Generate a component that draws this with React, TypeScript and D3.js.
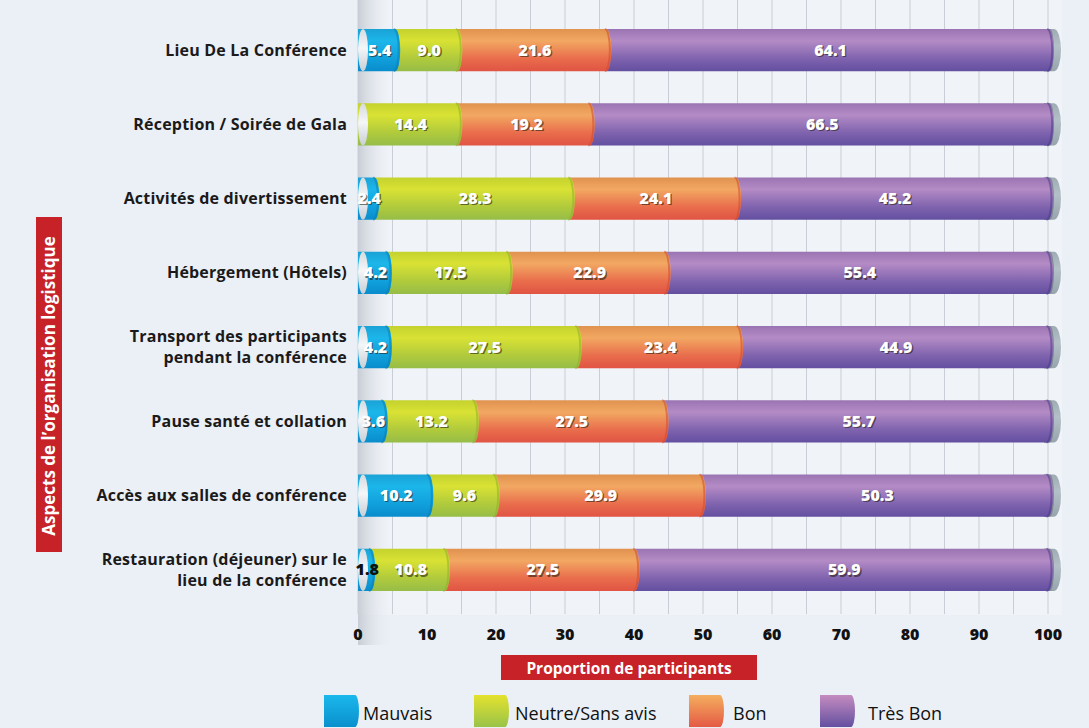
import React from "react";
import * as d3 from "d3";

const categories = [
  "Lieu De La Conférence",
  "Réception / Soirée de Gala",
  "Activités de divertissement",
  "Hébergement (Hôtels)",
  "Transport des participants\npendant la conférence",
  "Pause santé et collation",
  "Accès aux salles de conférence",
  "Restauration (déjeuner) sur le\nlieu de la conférence",
];

const seriesNames = ["Mauvais", "Neutre/Sans avis", "Bon", "Très Bon"];
const mauvais = [5.4, 0, 2.4, 4.2, 4.2, 3.6, 10.2, 1.8];
const neutre = [9.0, 14.4, 28.3, 17.5, 27.5, 13.2, 9.6, 10.8];
const bon = [21.6, 19.2, 24.1, 22.9, 23.4, 27.5, 29.9, 27.5];
const tresBon = [64.1, 66.5, 45.2, 55.4, 44.9, 55.7, 50.3, 59.9];
const xTicks = [0, 10, 20, 30, 40, 50, 60, 70, 80, 90, 100];

const W = 1089;
const H = 728;

// cylinder shading per series (top -> bottom)
const barStops = [
  ["#1aa2d6", "#1cb6ea", "#10a0dc", "#0a8ccc"],
  ["#c4d22e", "#d9e234", "#b0ca3c", "#96bd48"],
  ["#e0924f", "#f2a862", "#e96d4c", "#e05443"],
  ["#9a74b2", "#b48bc5", "#7f63ae", "#634fa0"],
];
const capColor = ["#0b7fb8", "#8fae2a", "#cf4a2e", "#4f3b8c"];
const legendStops = [
  ["#1ab8ec", "#0a90cd"],
  ["#e4e22e", "#99c349"],
  ["#f4ae5e", "#e45a45"],
  ["#c48cc0", "#6450a0"],
];

const font = "'Open Sans', 'DejaVu Sans', sans-serif";

export default function App() {
  const rows = categories.map((c, i) => ({
    cat: c,
    m: mauvais[i],
    n: neutre[i],
    b: bon[i],
    t: tresBon[i],
  }));
  const keys = ["m", "n", "b", "t"];
  const stacked = d3.stack<any>().keys(keys)(rows);

  const x = d3.scaleLinear().domain([0, 100]).range([358, 1048]);
  const y = d3
    .scaleBand<string>()
    .domain(categories)
    .range([-3, 623])
    .paddingInner(0.43)
    .paddingOuter(0.43);
  const bh = y.bandwidth();
  const rx = 5;

  const segPath = (x0: number, x1: number, top: number) =>
    `M${x0},${top}H${x1}A${rx},${bh / 2} 0 0 1 ${x1},${top + bh}H${x0}Z`;

  const gridVals = d3.range(0, 101, 5);

  return (
    <svg
      width={W}
      height={H}
      style={{ position: "absolute", left: 0, top: 0, display: "block" }}
    >
      <defs>
        {barStops.map((s, i) => (
          <linearGradient key={i} id={`bar${i}`} x1="0" y1="0" x2="0" y2="1">
            <stop offset="0%" stopColor={s[0]} />
            <stop offset="28%" stopColor={s[1]} />
            <stop offset="70%" stopColor={s[2]} />
            <stop offset="100%" stopColor={s[3]} />
          </linearGradient>
        ))}
        {legendStops.map((s, i) => (
          <linearGradient key={i} id={`leg${i}`} x1="0" y1="0" x2="0" y2="1">
            <stop offset="0%" stopColor={s[0]} />
            <stop offset="100%" stopColor={s[1]} />
          </linearGradient>
        ))}
        <linearGradient id="wall" x1="0" y1="0" x2="1" y2="0">
          <stop offset="0%" stopColor="#c6ccd4" stopOpacity={0.95} />
          <stop offset="100%" stopColor="#eef1f6" stopOpacity={0} />
        </linearGradient>
        <linearGradient id="capL" x1="0" y1="0" x2="0" y2="1">
          <stop offset="0%" stopColor="#d6dbe0" />
          <stop offset="45%" stopColor="#f4f6f8" />
          <stop offset="100%" stopColor="#c9cfd5" />
        </linearGradient>
        <linearGradient id="capR" x1="0" y1="0" x2="0" y2="1">
          <stop offset="0%" stopColor="#9eabb4" />
          <stop offset="40%" stopColor="#b4c0c7" />
          <stop offset="100%" stopColor="#97a4ad" />
        </linearGradient>
      </defs>

      <rect width={W} height={H} fill="#ebeff6" />
      <rect x={x(0)} y={0} width={x(100) - x(0) + 14} height={615} fill="#f0f3f8" />
      <rect x={x(0)} y={0} width={36} height={645} fill="url(#wall)" />

      {gridVals.map((v) => (
        <line
          key={v}
          x1={x(v)}
          x2={x(v)}
          y1={0}
          y2={614}
          stroke="#c9ced6"
          strokeWidth={1}
        />
      ))}

      {/* bars */}
      {rows.map((r, i) => {
        const top = y(r.cat)!;
        return (
          <g key={r.cat}>
            {/* right grey end cap */}
            <path
              d={`M${x(100) - 4},${top}H${x(100) + 6}A7,${bh / 2} 0 0 1 ${x(100) + 6},${top + bh}H${x(100) - 4}Z`}
              fill="url(#capR)"
            />
            <path
              d={`M${x(100) - 4},${top}H${x(100) + 2}A4,${bh / 2} 0 0 1 ${x(100) + 2},${top + bh}H${x(100) - 4}Z`}
              fill="#7d8a94"
            />
            {[3, 2, 1, 0].map((k) => {
              const d = stacked[k][i];
              if (d[1] - d[0] <= 0) return null;
              return (
                <g key={k}>
                  <path d={segPath(x(d[0]), x(d[1]), top)} fill={`url(#bar${k})`} />
                  <path
                    d={`M${x(d[1]) - 1.5},${top}A${rx},${bh / 2} 0 0 1 ${x(d[1]) - 1.5},${top + bh}`}
                    fill="none"
                    stroke={capColor[k]}
                    strokeOpacity={0.55}
                    strokeWidth={2}
                  />
                </g>
              );
            })}
            <ellipse
              cx={x(0) + 5}
              cy={top + bh / 2}
              rx={rx}
              ry={bh / 2}
              fill="url(#capL)"
            />
          </g>
        );
      })}

      {/* value labels */}
      {rows.map((r, i) => {
        const cy = y(r.cat)! + bh / 2;
        return keys.map((key, k) => {
          const d = stacked[k][i];
          const v = d[1] - d[0];
          if (v <= 0) return null;
          const cx = x((d[0] + d[1]) / 2) + 3;
          const dark = v < 2;
          return (
            <g key={`${i}-${k}`} fontFamily={font} fontWeight={800} fontSize={16}>
              {!dark && (
                <text x={cx + 1.3} y={cy + 6.8} textAnchor="middle" fill="rgba(40,30,20,0.6)">
                  {v.toFixed(1)}
                </text>
              )}
              <text x={cx} y={cy + 5.5} textAnchor="middle" fill={dark ? "#111" : "#fff"}>
                {v.toFixed(1)}
              </text>
            </g>
          );
        });
      })}

      {/* category labels, one text per line */}
      {categories.map((c) => {
        const lines = c.split("\n");
        const cy = y(c)! + bh / 2;
        const lh = 21;
        return lines.map((l, j) => (
          <text
            key={c + j}
            x={347}
            y={cy + 5.5 + (j - (lines.length - 1) / 2) * lh}
            textAnchor="end"
            fontFamily={font}
            fontWeight={700}
            fontSize={16}
            letterSpacing={0.2}
            fill="#1a1a1a"
          >
            {l}
          </text>
        ));
      })}

      {/* x ticks */}
      {xTicks.map((t) => (
        <text
          key={t}
          x={x(t)}
          y={640}
          textAnchor="middle"
          fontFamily={font}
          fontWeight={800}
          fontSize={16}
          fill="#111"
        >
          {t}
        </text>
      ))}

      {/* axis titles */}
      <rect x={501} y={655} width={256} height={25} fill="#c62228" />
      <text
        x={629}
        y={673.5}
        textAnchor="middle"
        fontFamily={font}
        fontWeight={700}
        fontSize={15.5}
        fill="#fff"
      >
        Proportion de participants
      </text>
      <rect x={36} y={217} width={26} height={335} fill="#c62228" />
      <text
        transform={`translate(55,${386}) rotate(-90)`}
        textAnchor="middle"
        fontFamily={font}
        fontWeight={700}
        fontSize={17}
        fill="#fff"
      >
        Aspects de l’organisation logistique
      </text>

      {/* legend */}
      {[
        { sx: 324, tx: 363 },
        { sx: 474, tx: 515 },
        { sx: 689, tx: 733 },
        { sx: 820, tx: 868 },
      ].map((p, i) => (
        <g key={i}>
          <path
            d={`M${p.sx},695H${p.sx + 31}A4,16 0 0 1 ${p.sx + 31},727H${p.sx}Z`}
            fill={`url(#leg${i})`}
          />
          <text
            x={p.tx}
            y={720}
            fontFamily={font}
            fontSize={18}
            fill="#111"
          >
            {seriesNames[i]}
          </text>
        </g>
      ))}
    </svg>
  );
}
